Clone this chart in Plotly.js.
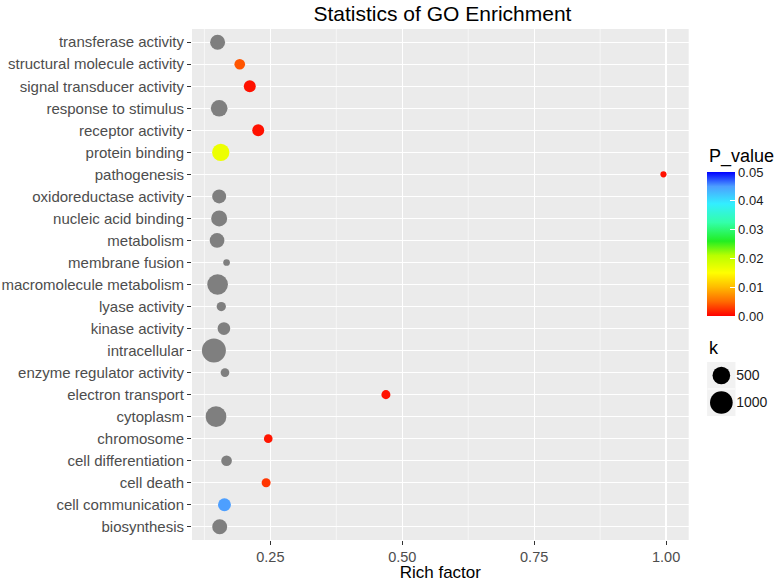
<!DOCTYPE html>
<html>
<head>
<meta charset="utf-8">
<script src="https://cdn.plot.ly/plotly-3.0.1.min.js"></script>
<style>html,body{margin:0;padding:0;background:#fff;}#chart{width:779px;height:582px;}</style>
</head>
<body>
<div id="chart"></div>
<script>
// ---- data (top to bottom as drawn) ----
const categories = [
  "transferase activity","structural molecule activity","signal transducer activity",
  "response to stimulus","receptor activity","protein binding","pathogenesis",
  "oxidoreductase activity","nucleic acid binding","metabolism","membrane fusion",
  "macromolecule metabolism","lyase activity","kinase activity","intracellular",
  "enzyme regulator activity","electron transport","cytoplasm","chromosome",
  "cell differentiation","cell death","cell communication","biosynthesis"
];
const richFactor = [0.150,0.192,0.211,0.153,0.227,0.156,0.995,0.153,0.153,0.149,0.167,0.150,
                    0.157,0.162,0.143,0.164,0.469,0.147,0.246,0.167,0.242,0.163,0.154];
const kCount = [301,88,139,420,139,467,1,240,369,282,4,779,46,171,1157,32,40,779,32,88,39,186,301];
const pValue = [null,0.004,0.0008,null,0.0008,0.0165,0.0008,null,null,null,null,null,
                null,null,null,null,0.0008,null,0.001,null,0.0025,0.045,null];
const xTickVals = [0.25,0.50,0.75,1.00];
const xTickLabels = ["0.25","0.50","0.75","1.00"];
const xMinorVals = [0.125,0.375,0.625,0.875];
const pTickVals = [0,0.01,0.02,0.03,0.04,0.05];
const kLegendBreaks = [500,1000];

// ---- scales ----
const sizeScale = k => 0.54*Math.sqrt(k) + 5.6;
const pColorscale = [
  [0,'#FF0000'],[0.1,'#FF6A00'],[0.2,'#FFBB00'],[0.3,'#FFFF00'],[0.42,'#B8FF00'],
  [0.52,'#22EE22'],[0.65,'#33FFAA'],[0.78,'#33EEFF'],[0.9,'#4D9FFF'],[1,'#0000FF']
];

const FONT = "Liberation Sans, Arial, Helvetica, sans-serif";

const idxNA = [], idxSig = [];
pValue.forEach((p,i)=> (p===null ? idxNA : idxSig).push(i));
const pick = (arr, idx) => idx.map(i=>arr[i]);

const traceNA = {
  type:'scatter', mode:'markers', xaxis:'x', yaxis:'y',
  x: pick(richFactor, idxNA), y: pick(categories, idxNA),
  marker:{color:'#7F7F7F', opacity:1, size: pick(kCount, idxNA).map(sizeScale), line:{width:0}},
  showlegend:false, hoverinfo:'x+y'
};
const traceSig = {
  type:'scatter', mode:'markers', xaxis:'x', yaxis:'y',
  x: pick(richFactor, idxSig), y: pick(categories, idxSig),
  marker:{
    color: pick(pValue, idxSig), cmin:0, cmax:0.05, colorscale:pColorscale, opacity:1,
    size: pick(kCount, idxSig).map(sizeScale), line:{width:0},
    showscale:true,
    colorbar:{
      title:{text:''},
      x:0.9012, xanchor:'left', xpad:0, ypad:0,
      y:(540-316)/511, yanchor:'bottom', len:144, lenmode:'pixels', thickness:28,
      outlinewidth:0, tickmode:'array', tickvals:pTickVals,
      ticktext:pTickVals.map(v=>v.toFixed(2)),
      ticks:'inside', ticklen:5, tickcolor:'#FFFFFF', tickwidth:1,
      tickfont:{family:FONT, size:13, color:'#1A1A1A'}
    }
  },
  showlegend:false, hoverinfo:'x+y'
};
const traceK = {
  type:'scatter', mode:'markers', xaxis:'x2', yaxis:'y2',
  x: kLegendBreaks.map(()=>0.5), y: kLegendBreaks.map((k,i)=>kLegendBreaks.length - i),
  marker:{color:'#000000', opacity:1, size: kLegendBreaks.map(sizeScale), line:{width:0}},
  showlegend:false, hoverinfo:'skip', cliponaxis:false
};

const minorShapes = xMinorVals.map(v=>({
  type:'line', xref:'x', yref:'y domain', x0:v, x1:v, y0:0, y1:1,
  line:{width:0.6, color:'#FFFFFF'}, layer:'below'
}));

const layout = {
  width:779, height:582,
  margin:{l:192, r:10, t:29, b:42, pad:0},
  paper_bgcolor:'#FFFFFF', plot_bgcolor:'#EBEBEB',
  font:{family:FONT},
  title:{text:'Statistics of GO Enrichment', xref:'container', x:0.568, xanchor:'center',
         yref:'container', y:1-14/582, yanchor:'middle', font:{family:FONT, size:21, color:'#000'}},
  xaxis:{
    domain:[0,0.8683], range:[0.1015,1.0428], tickmode:'array', tickvals:xTickVals, ticktext:xTickLabels,
    showgrid:true, gridcolor:'#FFFFFF', gridwidth:1.2, zeroline:false, showline:false,
    ticks:'outside', ticklen:4, tickwidth:1.1, tickcolor:'#333333',
    tickfont:{family:FONT, size:14.5, color:'#4D4D4D'},
    title:{text:'Rich factor', font:{family:FONT, size:17, color:'#000'}, standoff:6},
    fixedrange:true, automargin:false
  },
  yaxis:{
    type:'category', categoryorder:'array', categoryarray:categories, range:[22.6,-0.6],
    showgrid:true, gridcolor:'#FFFFFF', gridwidth:1.1, zeroline:false, showline:false,
    ticks:'outside', ticklen:4, tickwidth:1.1, tickcolor:'#333333',
    tickfont:{family:FONT, size:15, color:'#4D4D4D'}, fixedrange:true
  },
  xaxis2:{domain:[0.9012,0.9497], anchor:'y2', range:[0,1], visible:false, fixedrange:true},
  yaxis2:{domain:[0.2427,0.3483], anchor:'x2', range:[0.5,2.5], side:'right',
          tickmode:'array', tickvals:kLegendBreaks.map((k,i)=>kLegendBreaks.length - i),
          ticktext:kLegendBreaks.map(String), ticks:'', showgrid:false, zeroline:false, showline:false,
          tickfont:{family:FONT, size:14, color:'#1A1A1A'}, fixedrange:true},
  shapes: minorShapes.concat([
    {type:'rect', xref:'x2 domain', yref:'y2 domain', x0:0, x1:1, y0:0, y1:1,
     fillcolor:'#F2F2F2', line:{width:0}, layer:'below'},
    {type:'line', xref:'x2 domain', yref:'y2 domain', x0:0, x1:1, y0:0.5, y1:0.5,
     line:{width:1, color:'#FFFFFF'}, layer:'below'}
  ]),
  annotations:[
    {text:'P_value', xref:'paper', yref:'paper', x:0.9012, y:(540-156)/511, xanchor:'left', yanchor:'middle',
     showarrow:false, font:{family:FONT, size:18, color:'#000'}},
    {text:'k', xref:'paper', yref:'paper', x:0.9012, y:0.3757, xanchor:'left', yanchor:'middle',
     showarrow:false, font:{family:FONT, size:18, color:'#000'}}
  ]
};

Plotly.newPlot('chart', [traceNA, traceSig, traceK], layout, {displayModeBar:false, staticPlot:true});
</script>
</body>
</html>
